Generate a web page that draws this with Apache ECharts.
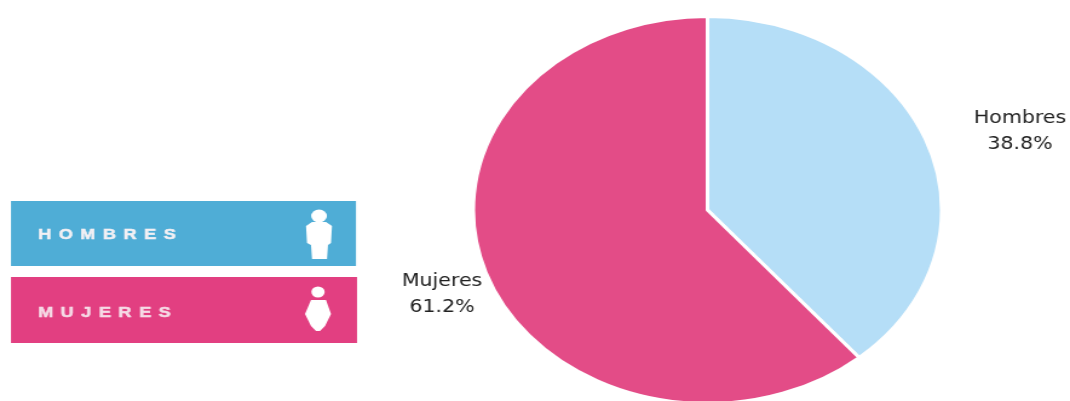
<!DOCTYPE html>
<html><head><meta charset="utf-8">
<style>html,body{margin:0;padding:0;background:#fff;overflow:hidden}
#c{width:884px;height:401px;transform:scaleX(1.2104);transform-origin:0 0;filter:blur(0.6px)}</style>
<script src="https://cdn.jsdelivr.net/npm/echarts@6/dist/echarts.min.js"></script>
</head><body><div id="c"></div>
<script>
const categories = ['Hombres','Mujeres'];
const values = [38.8,61.2];
const sliceColors = ['#b5def7','#e34c87'];
const legendNames = ['HOMBRES','MUJERES'];
const legendColors = ['#4fadd6','#e23f81'];
const S = 1.2104;
const sx = x => x / S;
const chart = echarts.init(document.getElementById('c'),null,{renderer:'canvas'});
chart.getZr().painter.getLayer(1).ctx.letterSpacing = '6.2px';
const pts = a => a.map(p => [sx(p[0]), p[1]]);
const white = {fill:'#fff'};
const graphics = [
  {type:'rect',shape:{x:sx(11),y:201,width:sx(345),height:65},style:{fill:legendColors[0]}},
  {type:'rect',shape:{x:sx(11),y:277,width:sx(346),height:66},style:{fill:legendColors[1]}},
  {type:'text',x:sx(38),y:227.5,zlevel:1,style:{text:legendNames[0],fill:'#f3f0f4',font:'bold 15px "Liberation Sans"',stroke:'#f3f0f4',lineWidth:0.5}},
  {type:'text',x:sx(38),y:305.5,zlevel:1,style:{text:legendNames[1],fill:'#f5dbe6',font:'bold 15px "Liberation Sans"',stroke:'#f5dbe6',lineWidth:0.5}},
  {type:'circle',shape:{cx:sx(319),cy:216,r:6.5},style:white},
  {type:'polygon',shape:{points:pts([[312,222],[326,222],[332,226],[331,243],[328,245],[327,259],[312,259],[311,245],[307,243],[306,226]])},style:white},
  {type:'circle',shape:{cx:sx(318),cy:292,r:5.5},style:white},
  {type:'polygon',shape:{points:pts([[311,300],[326,300],[331,314],[325,326],[320,331],[316,331],[311,326],[305,314]])},style:white}
];
chart.setOption({
  animation:false,
  backgroundColor:'#fff',
  graphic:graphics,
  series:[{
    type:'pie',
    center:[sx(707.5),210],radius:[0,193.5],
    startAngle:90,clockwise:true,
    percentPrecision:1,
    silent:true,
    label:{show:true,position:'outside',formatter:'{b}\n{d}%',color:'#222',fontSize:17,lineHeight:26,fontFamily:'"DejaVu Sans"',align:'center',overflow:'none'},
    labelLine:{show:false},
    labelLayout:p => p.dataIndex===0
      ? {x:sx(1020),y:132,align:'center',verticalAlign:'middle'}
      : {x:sx(442),y:295,align:'center',verticalAlign:'middle'},
    itemStyle:{borderColor:'#fff',borderWidth:3},
    data:categories.map((c,i)=>({name:c,value:values[i],itemStyle:{color:sliceColors[i]}}))
  }]
});
</script></body></html>
